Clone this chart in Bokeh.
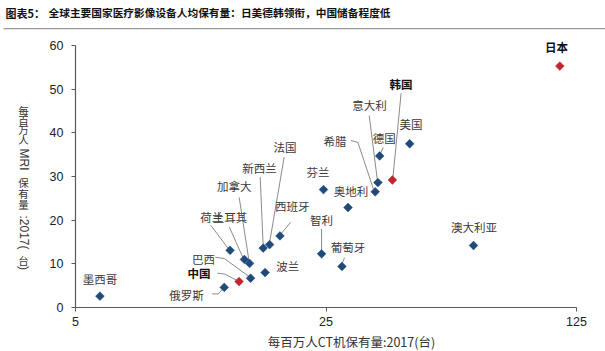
import math
from bokeh.plotting import figure
from bokeh.models import Label, BoxAnnotation, FixedTicker, PrintfTickFormatter
from bokeh.embed import file_html
from bokeh.resources import INLINE

# ---------------- data ----------------
countries = ["墨西哥", "俄罗斯", "中国", "巴西", "荷兰", "土耳其", "加拿大", "新西兰", "法国",
             "西班牙", "波兰", "智利", "葡萄牙", "芬兰", "奥地利", "希腊", "意大利", "德国",
             "韩国", "美国", "澳大利亚", "日本"]
ct_per_million = [5.85, 13.0, 14.3, 15.4, 13.5, 14.8, 15.3, 16.7, 17.4,
                  18.6, 16.9, 24.3, 27.7, 24.6, 28.8, 34.3, 34.9, 35.3,
                  38.3, 42.8, 64.5, 112.3]
mri_per_million = [2.6, 4.6, 5.95, 6.7, 13.1, 11.0, 10.1, 13.6, 14.4,
                   16.4, 8.0, 12.3, 9.4, 27.0, 22.9, 26.5, 28.6, 34.7,
                   29.2, 37.5, 14.2, 55.3]
highlighted = ["中国", "韩国", "日本"]
x_ticks = [5, 25, 125]
y_ticks = [0, 10, 20, 30, 40, 50, 60]

title_prefix = "图表5："
title_text = "全球主要国家医疗影像设备人均保有量：日美德韩领衔，中国储备程度低"
x_title = "每百万人CT机保有量:2017(台)"
# y title is typeset vertically (East-Asian stacked): CJK upright, Latin runs rotated
y_title_parts = ["每", "百", "万", "人", "MRI", "保", "有", "量", ":2017(", "台", ")"]

# ---------------- layout (pixels) ----------------
label_offset = {
    "墨西哥": (0, -17.5), "俄罗斯": (-37.7, 7.8), "中国": (-40, -8.3), "巴西": (-47, -19.4),
    "荷兰": (-18.3, -33.3), "土耳其": (-14.3, -42.3), "加拿大": (-15.4, -77),
    "新西兰": (-3.7, -80), "法国": (15.3, -97.6), "西班牙": (12.4, -30.3), "波兰": (22.7, -7),
    "智利": (0, -33.3), "葡萄牙": (6, -19.3), "芬兰": (-5.6, -17.3), "奥地利": (3, -17),
    "希腊": (-40.3, -50.3), "意大利": (-8.4, -77.7), "德国": (4.6, -18.4), "韩国": (8.7, -96.4),
    "美国": (1.3, -19.3), "澳大利亚": (0.4, -18.3), "日本": (-3.3, -18.6),
}
leader_path = {
    "俄罗斯": [(-12, 6.5), (-6, 6.5), (-1.5, 1.5)],
    "中国": [(-21.6, -8.3), (-14.3, -7.5), (-2, -1)],
    "巴西": [(-35.3, -21), (-26.3, -19.7), (-2, -2)],
    "荷兰": [(-19.3, -25), (-2, -2)],
    "土耳其": [(-15, -32.3), (-1.5, -2)],
    "加拿大": [(-10.4, -66), (-0.5, -2)],
    "新西兰": [(-3, -71), (0, -2)],
    "法国": [(14.6, -87.6), (0, -2)],
    "西班牙": [(10.7, -13.6), (1, -2)],
    "智利": [(0, -25), (0, -3)],
    "葡萄牙": [(2.6, -8.7), (0, -2.5)],
    "希腊": [(-24.3, -51.3), (-17.3, -49.3), (-1.8, -2.8)],
    "意大利": [(-8.7, -67), (-0.5, -2)],
    "德国": [(3.5, -8.5), (1, -3)],
    "韩国": [(8.7, -86.7), (0.5, -2)],
}
y_title_x = 23
y_title_centers = [110, 119.5, 129, 138.5, 159, 182, 193, 204, 232, 259.5, 267.5]

W, H = 605, 351
AX_L, AX_R, AX_T, AX_B = 75, 576, 45, 307   # pixel box of the axes
X0, X1 = 5, 125
Y0, Y1 = 0, 60
PX_PER_LN = (AX_R - AX_L) / math.log(X1 / X0)
PX_PER_Y = (AX_B - AX_T) / (Y1 - Y0)


def cx(px):
    return X0 * math.exp((px - AX_L) / PX_PER_LN)


def cy(py):
    return Y0 + (AX_B - py) / PX_PER_Y


CJK = "Noto Sans CJK SC"
LAT = "Liberation Sans"
BLUE = "#1f4a7a"
RED = "#c0262d"
AXIS = "#595959"

p = figure(width=W, height=H, x_axis_type="log",
           x_range=(cx(0), cx(W)), y_range=(cy(H), cy(0)),
           output_backend="svg", toolbar_location=None, min_border=0)
p.outline_line_color = None
p.xgrid.visible = False
p.ygrid.visible = False
p.background_fill_color = "white"
p.border_fill_color = "white"


def shift(x, y, dx, dy):
    return x * math.exp(dx / PX_PER_LN), y - dy / PX_PER_Y


# leader lines
xs, ys = [], []
for c, x, y in zip(countries, ct_per_million, mri_per_million):
    if c in leader_path:
        pts = [shift(x, y, dx, dy) for dx, dy in leader_path[c]]
        xs.append([q[0] for q in pts])
        ys.append([q[1] for q in pts])
p.multi_line(xs, ys, line_color="#8a8a8a", line_width=1)

colors = [RED if c in highlighted else BLUE for c in countries]
p.scatter(ct_per_million, mri_per_million, marker="square", angle=math.pi / 4, size=6.2,
          fill_color=colors, line_color=colors, line_width=0.5)

for c, x, y in zip(countries, ct_per_million, mri_per_million):
    dx, dy = label_offset[c]
    p.add_layout(Label(x=x, y=y, x_offset=dx, y_offset=-dy, text=c,
                       text_font=CJK, text_font_size="11.5px",
                       text_font_style="bold" if c in highlighted else "normal",
                       text_color="#111111" if c in highlighted else "#3a3a3a",
                       text_align="center", text_baseline="middle"))

# axes drawn at fixed data locations
for ax in (p.xaxis[0], p.yaxis[0]):
    ax.axis_line_color = AXIS
    ax.axis_line_width = 1.2
    ax.major_tick_line_color = AXIS
    ax.major_tick_out = 4
    ax.major_tick_in = 0
    ax.minor_tick_line_color = None
    ax.major_label_text_font = LAT
    ax.major_label_text_font_size = "12.5px"
    ax.major_label_text_color = "#222222"

p.xaxis.ticker = FixedTicker(ticks=x_ticks)
p.xaxis.formatter = PrintfTickFormatter(format="%d")
p.xaxis.major_label_standoff = 5
p.xaxis.bounds = (X0, X1)
p.xaxis.fixed_location = Y0

p.yaxis.ticker = FixedTicker(ticks=y_ticks)
p.yaxis.major_label_standoff = 8
p.yaxis.bounds = (Y0, Y1)
p.yaxis.fixed_location = X0

# axis titles
p.add_layout(Label(x=cx(351), y=cy(341), text=x_title, text_font=CJK, text_font_size="12.5px",
                   text_color="#333333", text_align="center", text_baseline="middle"))
for part, yc in zip(y_title_parts, y_title_centers):
    latin = all(ord(ch) < 128 for ch in part)
    p.add_layout(Label(x=cx(y_title_x), y=cy(yc), text=part,
                       text_font=LAT if latin else CJK,
                       text_font_size="12px" if latin else "10.5px",
                       angle=-math.pi / 2 if latin else 0,
                       text_color="#333333", text_align="center", text_baseline="middle"))

# title and rule
p.add_layout(Label(x=cx(5), y=cy(12), text=title_prefix, text_font=CJK, text_font_style="bold",
                   text_font_size="11px", text_color="#111111",
                   text_align="left", text_baseline="middle"))
p.add_layout(Label(x=cx(48), y=cy(12), text=title_text, text_font=CJK, text_font_style="bold",
                   text_font_size="10.7px", text_color="#111111",
                   text_align="left", text_baseline="middle"))
p.add_layout(BoxAnnotation(left=cx(3), right=cx(W), bottom=cy(28.8), top=cy(27.4),
                           fill_color="#9a9a9a", fill_alpha=1, line_color=None))

open("out.html", "w").write(file_html(p, INLINE))
